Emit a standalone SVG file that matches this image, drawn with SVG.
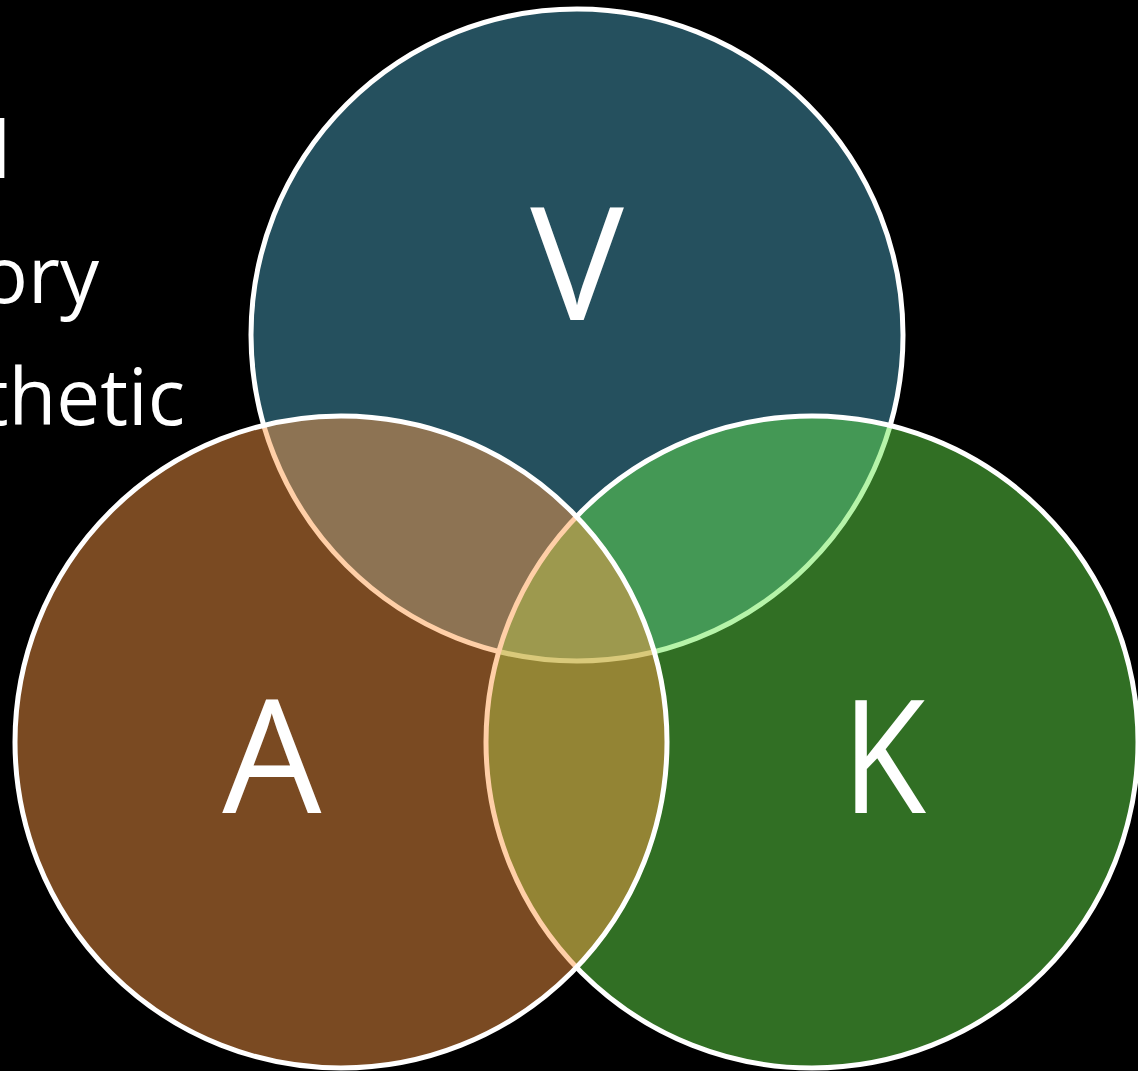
<svg xmlns="http://www.w3.org/2000/svg" width="1138" height="1071" viewBox="0 0 1138 1071">
<style>
.side{font-family:"Open Sans","Liberation Sans",sans-serif;font-size:78px;fill:#ffffff;text-anchor:end}
.lbl{font-family:"Open Sans","Liberation Sans",sans-serif;font-size:157px;fill:#ffffff;text-anchor:middle}
.ring{stroke:#ffffff;stroke-width:5}
</style>
<rect width="1138" height="1071" fill="#000000"/>
<g id="side-text">
<text class="side" x="11" y="178">l</text>
<text class="side" x="99" y="303">ory</text>
<text class="side" x="185" y="425">thetic</text>
</g>
<g id="node-V">
<circle class="ring" cx="577" cy="335" r="326" fill="#25505E"/>
<text class="lbl" x="577" y="320">V</text>
</g>
<g id="node-K">
<circle class="ring" cx="812" cy="742" r="326" fill="rgb(102,233,75)" fill-opacity="0.48"/>
<text class="lbl" x="884" y="813" textLength="84" lengthAdjust="spacingAndGlyphs">K</text>
</g>
<g id="node-A">
<circle class="ring" cx="341" cy="742" r="326" fill="rgb(254,154,71)" fill-opacity="0.48"/>
<text class="lbl" x="272" y="813">A</text>
</g>
<g id="connectors"></g>
</svg>
